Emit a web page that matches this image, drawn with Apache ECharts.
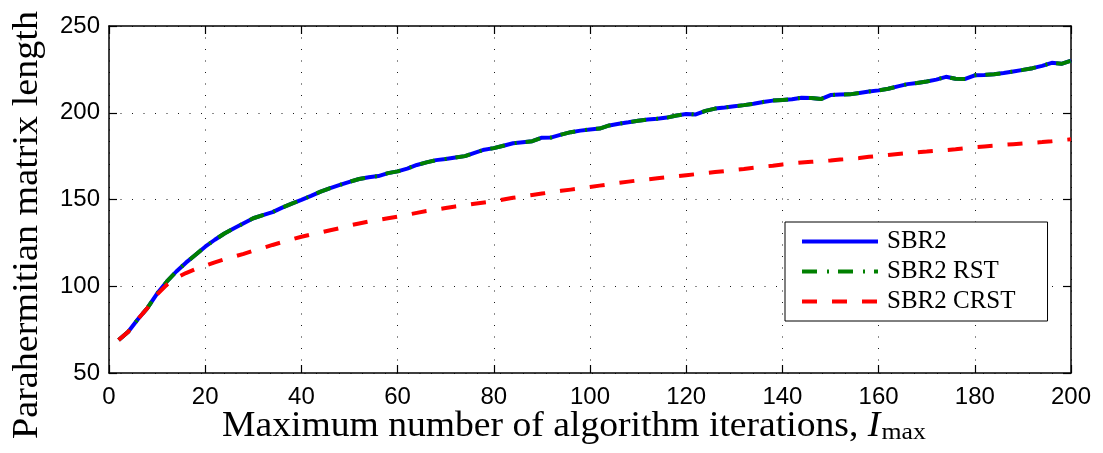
<!DOCTYPE html>
<html>
<head>
<meta charset="utf-8">
<script src="https://cdn.jsdelivr.net/npm/echarts@6/dist/echarts.min.js"></script>
<style>
  html, body { margin: 0; padding: 0; background: #fff; }
  #chart { width: 1103px; height: 453px; }
</style>
</head>
<body>
<div id="chart"></div>
<script>
// Maximum number of algorithm iterations
const iterations = [
  2, 4, 6, 8, 10, 12, 14, 16, 18, 20, 22, 24, 26, 28, 30, 32, 34, 36, 38, 40,
  42, 44, 46, 48, 50, 52, 54, 56, 58, 60, 62, 64, 66, 68, 70, 72, 74, 76, 78, 80,
  82, 84, 86, 88, 90, 92, 94, 96, 98, 100, 102, 104, 106, 108, 110, 112, 114, 116, 118, 120,
  122, 124, 126, 128, 130, 132, 134, 136, 138, 140, 142, 144, 146, 148, 150, 152, 154, 156, 158, 160,
  162, 164, 166, 168, 170, 172, 174, 176, 178, 180, 182, 184, 186, 188, 190, 192, 194, 196, 198, 200
];

// Parahermitian matrix length, SBR2
const sbr2 = [
  69.0, 73.8, 81.0, 87.5, 95.8, 102.6, 108.5, 113.6, 118.2, 122.8,
  126.8, 130.4, 133.4, 136.3, 139.2, 141.0, 142.7, 145.3, 147.6, 149.8,
  152.1, 154.5, 156.6, 158.4, 160.2, 161.8, 162.8, 163.5, 165.2, 166.2,
  167.8, 169.9, 171.4, 172.7, 173.4, 174.2, 175.0, 176.9, 178.7, 179.6,
  181.0, 182.4, 183.0, 183.6, 185.6, 185.8, 187.4, 188.8, 189.7, 190.4,
  190.9, 192.7, 193.7, 194.5, 195.4, 196.1, 196.6, 197.2, 198.4, 199.3,
  199.0, 201.1, 202.4, 203.0, 203.7, 204.4, 205.2, 206.2, 207.0, 207.4,
  207.8, 208.7, 208.5, 207.9, 210.2, 210.5, 210.6, 211.4, 212.3, 212.9,
  213.8, 215.2, 216.5, 217.2, 218.0, 219.1, 220.7, 219.6, 219.5, 221.6,
  221.8, 222.2, 222.9, 223.8, 224.7, 225.7, 227.0, 228.8, 228.2, 230.0
];

// SBR2 with RST: same lengths as SBR2
const sbr2Rst = [
  69.0, 73.8, 81.0, 87.5, 95.8, 102.6, 108.5, 113.6, 118.2, 122.8,
  126.8, 130.4, 133.4, 136.3, 139.2, 141.0, 142.7, 145.3, 147.6, 149.8,
  152.1, 154.5, 156.6, 158.4, 160.2, 161.8, 162.8, 163.5, 165.2, 166.2,
  167.8, 169.9, 171.4, 172.7, 173.4, 174.2, 175.0, 176.9, 178.7, 179.6,
  181.0, 182.4, 183.0, 183.6, 185.6, 185.8, 187.4, 188.8, 189.7, 190.4,
  190.9, 192.7, 193.7, 194.5, 195.4, 196.1, 196.6, 197.2, 198.4, 199.3,
  199.0, 201.1, 202.4, 203.0, 203.7, 204.4, 205.2, 206.2, 207.0, 207.4,
  207.8, 208.7, 208.5, 207.9, 210.2, 210.5, 210.6, 211.4, 212.3, 212.9,
  213.8, 215.2, 216.5, 217.2, 218.0, 219.1, 220.7, 219.6, 219.5, 221.6,
  221.8, 222.2, 222.9, 223.8, 224.7, 225.7, 227.0, 228.8, 228.2, 230.0
];

// SBR2 with CRST
const sbr2Crst = [
  69.0, 73.8, 81.0, 87.5, 95.3, 100.8, 104.8, 107.6, 109.9, 111.9,
  113.8, 115.5, 117.1, 118.7, 120.5, 122.1, 123.8, 125.4, 127.0, 128.5,
  129.8, 131.0, 132.3, 133.5, 135.0, 136.2, 137.3, 138.3, 139.2, 140.1,
  141.2, 142.3, 143.4, 144.2, 145.1, 146.0, 146.8, 147.6, 148.3, 149.0,
  150.0, 151.0, 151.8, 152.6, 153.4, 154.2, 155.0, 155.7, 156.4, 157.2,
  158.0, 158.8, 159.6, 160.3, 161.0, 161.6, 162.2, 162.8, 163.4, 164.0,
  164.6, 165.2, 165.8, 166.4, 167.0, 167.6, 168.3, 168.9, 169.5, 170.2,
  170.8, 171.3, 171.7, 172.1, 172.5, 173.0, 173.4, 173.9, 174.6, 175.1,
  175.7, 176.2, 176.7, 177.2, 177.6, 178.1, 178.5, 179.0, 179.6, 180.2,
  180.6, 181.0, 181.5, 181.9, 182.3, 182.7, 183.1, 183.6, 184.2, 184.7
];

const seriesNames = ['SBR2', 'SBR2 RST', 'SBR2 CRST'];
const xTicks = { min: 0, max: 200, interval: 20 };
const yTicks = { min: 50, max: 250, interval: 50 };

const pair = (ys) => iterations.map((x, i) => [x, ys[i]]);

const tickFont = { fontFamily: '"Liberation Sans", Arial, Helvetica, sans-serif', fontSize: 24, color: '#000' };
const serif = '"Liberation Serif", "Times New Roman", serif';

const gridLine = { show: true, lineStyle: { color: '#1a1a1a', width: 1, type: [1, 10.5] } };
const frameLine = { show: true, onZero: false, lineStyle: { color: '#000', width: 1.5 } };
const innerTick = { show: true, inside: true, length: 8, lineStyle: { color: '#000', width: 1.2 } };

const chart = echarts.init(document.getElementById('chart'), null, { renderer: 'canvas' });

chart.setOption({
  animation: false,
  backgroundColor: '#fff',
  grid: { left: 109, right: 32, top: 26, bottom: 80, containLabel: false },
  xAxis: [
    {
      type: 'value', position: 'bottom', ...xTicks,
      axisLine: frameLine, axisTick: innerTick, splitLine: gridLine,
      axisLabel: { ...tickFont, margin: 12 }
    },
    {
      type: 'value', position: 'top', ...xTicks,
      axisLine: frameLine, axisTick: innerTick, splitLine: { show: false },
      axisLabel: { show: false }
    }
  ],
  yAxis: [
    {
      type: 'value', position: 'left', ...yTicks,
      axisLine: frameLine, axisTick: innerTick, splitLine: gridLine,
      axisLabel: { ...tickFont, margin: 9 }
    },
    {
      type: 'value', position: 'right', ...yTicks,
      axisLine: frameLine, axisTick: innerTick, splitLine: { show: false },
      axisLabel: { show: false }
    }
  ],
  legend: {
    orient: 'vertical',
    left: 785, top: 222,
    padding: [7, 32, 7, 15],
    itemWidth: 76, itemHeight: 14, itemGap: 5,
    backgroundColor: '#fff',
    borderColor: '#000', borderWidth: 1, borderRadius: 0,
    itemStyle: { opacity: 0 },
    lineStyle: { width: 4 },
    textStyle: { fontFamily: serif, fontSize: 25, color: '#000', padding: [0, 0, 0, 4] },
    data: seriesNames
  },
  graphic: [
    {
      type: 'text', x: 222, y: 408, scaleX: 1.075,
      style: {
        text: 'Maximum number of algorithm iterations, {i|I}{s|max}',
        font: '35px ' + serif, fill: '#000',
        rich: {
          i: { fontFamily: serif, fontSize: 35, fontStyle: 'italic', fill: '#000' },
          s: { fontFamily: serif, fontSize: 24, fill: '#000', padding: [13, 0, 0, 1] }
        }
      }
    },
    {
      type: 'text', x: 28, y: 225, rotation: Math.PI / 2, scaleX: 1.09,
      style: {
        text: 'Parahermitian matrix length',
        font: '35px ' + serif, fill: '#000',
        align: 'center', verticalAlign: 'middle'
      }
    }
  ],
  series: [
    {
      name: seriesNames[0], type: 'line', data: pair(sbr2),
      showSymbol: false, symbol: 'none',
      lineStyle: { color: '#0000ff', width: 4, type: 'solid' },
      itemStyle: { color: '#0000ff' }, z: 2
    },
    {
      name: seriesNames[1], type: 'line', data: pair(sbr2Rst),
      showSymbol: false, symbol: 'none',
      lineStyle: { color: '#008000', width: 4, type: [15, 10, 2, 9] },
      itemStyle: { color: '#008000' }, z: 3
    },
    {
      name: seriesNames[2], type: 'line', data: pair(sbr2Crst),
      showSymbol: false, symbol: 'none',
      lineStyle: { color: '#ff0000', width: 4, type: [15, 15] },
      itemStyle: { color: '#ff0000' }, z: 4
    }
  ]
});
</script>
</body>
</html>
